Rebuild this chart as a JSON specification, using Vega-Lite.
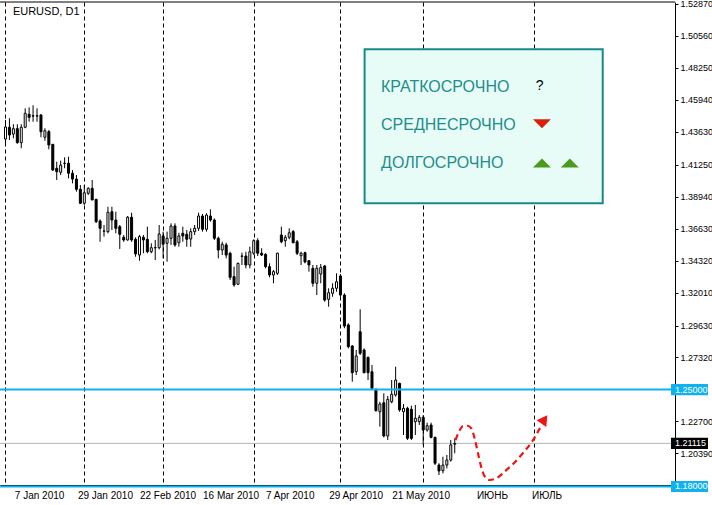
{
  "$schema": "https://vega.github.io/schema/vega-lite/v6.json",
  "width": 675,
  "height": 483,
  "autosize": {"type": "none"},
  "padding": {"left": 0, "top": 2, "right": 37, "bottom": 20},
  "background": "#ffffff",
  "config": {"view": {"stroke": null}, "font": "Liberation Sans"},
  "resolve": {"axis": {"x": "independent", "y": "independent"}},
  "datasets": {
    "candles": [
      {"i":0,"o":1.4310,"h":1.4448,"l":1.4267,"c":1.4397},
      {"i":1,"o":1.4395,"h":1.4460,"l":1.4303,"c":1.4339},
      {"i":2,"o":1.4346,"h":1.4417,"l":1.4315,"c":1.4385},
      {"i":3,"o":1.4385,"h":1.4417,"l":1.4276,"c":1.4284},
      {"i":4,"o":1.4284,"h":1.4417,"l":1.4243,"c":1.4395},
      {"i":5,"o":1.4395,"h":1.4532,"l":1.4388,"c":1.4496},
      {"i":6,"o":1.4489,"h":1.4539,"l":1.4435,"c":1.4467},
      {"i":7,"o":1.4478,"h":1.4554,"l":1.4435,"c":1.4476},
      {"i":8,"o":1.4476,"h":1.4532,"l":1.4435,"c":1.4478},
      {"i":9,"o":1.4484,"h":1.4489,"l":1.4323,"c":1.4363},
      {"i":10,"o":1.4323,"h":1.4388,"l":1.4298,"c":1.4370},
      {"i":11,"o":1.4363,"h":1.4375,"l":1.4236,"c":1.4267},
      {"i":12,"o":1.4272,"h":1.4274,"l":1.4082,"c":1.4086},
      {"i":13,"o":1.4099,"h":1.4146,"l":1.4014,"c":1.4074},
      {"i":14,"o":1.4070,"h":1.4154,"l":1.4050,"c":1.4122},
      {"i":15,"o":1.4133,"h":1.4178,"l":1.4099,"c":1.4135},
      {"i":16,"o":1.4135,"h":1.4182,"l":1.4026,"c":1.4063},
      {"i":17,"o":1.4063,"h":1.4086,"l":1.3990,"c":1.4021},
      {"i":18,"o":1.4021,"h":1.4050,"l":1.3930,"c":1.3947},
      {"i":19,"o":1.3947,"h":1.3978,"l":1.3841,"c":1.3846},
      {"i":20,"o":1.3846,"h":1.3978,"l":1.3834,"c":1.3922},
      {"i":21,"o":1.3918,"h":1.3961,"l":1.3906,"c":1.3954},
      {"i":22,"o":1.3954,"h":1.4014,"l":1.3868,"c":1.3870},
      {"i":23,"o":1.3875,"h":1.3877,"l":1.3703,"c":1.3713},
      {"i":24,"o":1.3718,"h":1.3730,"l":1.3568,"c":1.3665},
      {"i":25,"o":1.3644,"h":1.3689,"l":1.3605,"c":1.3646},
      {"i":26,"o":1.3641,"h":1.3821,"l":1.3629,"c":1.3781},
      {"i":27,"o":1.3785,"h":1.3821,"l":1.3653,"c":1.3725},
      {"i":28,"o":1.3725,"h":1.3785,"l":1.3629,"c":1.3665},
      {"i":29,"o":1.3677,"h":1.3689,"l":1.3516,"c":1.3622},
      {"i":30,"o":1.3600,"h":1.3617,"l":1.3568,"c":1.3581},
      {"i":31,"o":1.3581,"h":1.3754,"l":1.3576,"c":1.3745},
      {"i":32,"o":1.3745,"h":1.3778,"l":1.3568,"c":1.3581},
      {"i":33,"o":1.3586,"h":1.3600,"l":1.3460,"c":1.3480},
      {"i":34,"o":1.3472,"h":1.3617,"l":1.3431,"c":1.3605},
      {"i":35,"o":1.3600,"h":1.3617,"l":1.3485,"c":1.3581},
      {"i":36,"o":1.3586,"h":1.3677,"l":1.3485,"c":1.3496},
      {"i":37,"o":1.3496,"h":1.3557,"l":1.3485,"c":1.3525},
      {"i":38,"o":1.3524,"h":1.3581,"l":1.3436,"c":1.3526},
      {"i":39,"o":1.3525,"h":1.3689,"l":1.3513,"c":1.3624},
      {"i":40,"o":1.3610,"h":1.3641,"l":1.3448,"c":1.3550},
      {"i":41,"o":1.3557,"h":1.3641,"l":1.3424,"c":1.3593},
      {"i":42,"o":1.3593,"h":1.3701,"l":1.3545,"c":1.3682},
      {"i":43,"o":1.3682,"h":1.3701,"l":1.3532,"c":1.3545},
      {"i":44,"o":1.3561,"h":1.3633,"l":1.3532,"c":1.3610},
      {"i":45,"o":1.3629,"h":1.3677,"l":1.3568,"c":1.3610},
      {"i":46,"o":1.3622,"h":1.3653,"l":1.3532,"c":1.3586},
      {"i":47,"o":1.3588,"h":1.3665,"l":1.3532,"c":1.3641},
      {"i":48,"o":1.3641,"h":1.3689,"l":1.3617,"c":1.3665},
      {"i":49,"o":1.3665,"h":1.3778,"l":1.3646,"c":1.3754},
      {"i":50,"o":1.3754,"h":1.3769,"l":1.3641,"c":1.3658},
      {"i":51,"o":1.3658,"h":1.3774,"l":1.3641,"c":1.3761},
      {"i":52,"o":1.3754,"h":1.3802,"l":1.3713,"c":1.3725},
      {"i":53,"o":1.3725,"h":1.3737,"l":1.3581,"c":1.3593},
      {"i":54,"o":1.3593,"h":1.3605,"l":1.3448,"c":1.3508},
      {"i":55,"o":1.3508,"h":1.3568,"l":1.3472,"c":1.3550},
      {"i":56,"o":1.3545,"h":1.3561,"l":1.3448,"c":1.3472},
      {"i":57,"o":1.3485,"h":1.3496,"l":1.3292,"c":1.3311},
      {"i":58,"o":1.3316,"h":1.3388,"l":1.3243,"c":1.3256},
      {"i":59,"o":1.3261,"h":1.3417,"l":1.3256,"c":1.3412},
      {"i":60,"o":1.3463,"h":1.3489,"l":1.3400,"c":1.3465},
      {"i":61,"o":1.3465,"h":1.3496,"l":1.3376,"c":1.3400},
      {"i":62,"o":1.3400,"h":1.3532,"l":1.3376,"c":1.3496},
      {"i":63,"o":1.3485,"h":1.3586,"l":1.3472,"c":1.3576},
      {"i":64,"o":1.3576,"h":1.3593,"l":1.3465,"c":1.3485},
      {"i":65,"o":1.3485,"h":1.3521,"l":1.3465,"c":1.3472},
      {"i":66,"o":1.3477,"h":1.3485,"l":1.3376,"c":1.3388},
      {"i":67,"o":1.3388,"h":1.3412,"l":1.3311,"c":1.3328},
      {"i":68,"o":1.3328,"h":1.3364,"l":1.3268,"c":1.3352},
      {"i":69,"o":1.3340,"h":1.3489,"l":1.3328,"c":1.3485},
      {"i":70,"o":1.3617,"h":1.3677,"l":1.3557,"c":1.3568},
      {"i":71,"o":1.3576,"h":1.3617,"l":1.3532,"c":1.3600},
      {"i":72,"o":1.3600,"h":1.3665,"l":1.3586,"c":1.3633},
      {"i":73,"o":1.3641,"h":1.3653,"l":1.3557,"c":1.3561},
      {"i":74,"o":1.3568,"h":1.3581,"l":1.3472,"c":1.3485},
      {"i":75,"o":1.3467,"h":1.3496,"l":1.3400,"c":1.3485},
      {"i":76,"o":1.3489,"h":1.3496,"l":1.3412,"c":1.3422},
      {"i":77,"o":1.3431,"h":1.3436,"l":1.3352,"c":1.3400},
      {"i":78,"o":1.3376,"h":1.3400,"l":1.3243,"c":1.3268},
      {"i":79,"o":1.3268,"h":1.3400,"l":1.3183,"c":1.3376},
      {"i":80,"o":1.3335,"h":1.3407,"l":1.3268,"c":1.3383},
      {"i":81,"o":1.3393,"h":1.3400,"l":1.3135,"c":1.3147},
      {"i":82,"o":1.3152,"h":1.3232,"l":1.3099,"c":1.3200},
      {"i":83,"o":1.3196,"h":1.3268,"l":1.3171,"c":1.3232},
      {"i":84,"o":1.3232,"h":1.3340,"l":1.3207,"c":1.3279},
      {"i":85,"o":1.3321,"h":1.3335,"l":1.3171,"c":1.3183},
      {"i":86,"o":1.3183,"h":1.3196,"l":1.2943,"c":1.2959},
      {"i":87,"o":1.2967,"h":1.2979,"l":1.2798,"c":1.2810},
      {"i":88,"o":1.2815,"h":1.2822,"l":1.2557,"c":1.2622},
      {"i":89,"o":1.2629,"h":1.2786,"l":1.2605,"c":1.2743},
      {"i":90,"o":1.2918,"h":1.3080,"l":1.2750,"c":1.2762},
      {"i":91,"o":1.2786,"h":1.2798,"l":1.2618,"c":1.2622},
      {"i":92,"o":1.2733,"h":1.2738,"l":1.2569,"c":1.2622},
      {"i":93,"o":1.2629,"h":1.2678,"l":1.2509,"c":1.2509},
      {"i":94,"o":1.2502,"h":1.2509,"l":1.2340,"c":1.2348},
      {"i":95,"o":1.2340,"h":1.2412,"l":1.2232,"c":1.2396},
      {"i":96,"o":1.2405,"h":1.2473,"l":1.2155,"c":1.2165},
      {"i":97,"o":1.2165,"h":1.2454,"l":1.2136,"c":1.2430},
      {"i":98,"o":1.2412,"h":1.2569,"l":1.2401,"c":1.2466},
      {"i":99,"o":1.2461,"h":1.2665,"l":1.2449,"c":1.2569},
      {"i":100,"o":1.2545,"h":1.2550,"l":1.2340,"c":1.2353},
      {"i":101,"o":1.2340,"h":1.2396,"l":1.2172,"c":1.2365},
      {"i":102,"o":1.2365,"h":1.2376,"l":1.2136,"c":1.2148},
      {"i":103,"o":1.2358,"h":1.2384,"l":1.2136,"c":1.2148},
      {"i":104,"o":1.2268,"h":1.2389,"l":1.2172,"c":1.2293},
      {"i":105,"o":1.2268,"h":1.2316,"l":1.2244,"c":1.2300},
      {"i":106,"o":1.2300,"h":1.2316,"l":1.2100,"c":1.2208},
      {"i":107,"o":1.2208,"h":1.2261,"l":1.2196,"c":1.2239},
      {"i":108,"o":1.2244,"h":1.2261,"l":1.2148,"c":1.2155},
      {"i":109,"o":1.2155,"h":1.2160,"l":1.1955,"c":1.1968},
      {"i":110,"o":1.1955,"h":1.1968,"l":1.1883,"c":1.1912},
      {"i":111,"o":1.1914,"h":1.2015,"l":1.1895,"c":1.1955},
      {"i":112,"o":1.1955,"h":1.2028,"l":1.1931,"c":1.1991},
      {"i":113,"o":1.1991,"h":1.2136,"l":1.1979,"c":1.2100},
      {"i":114,"o":1.2105,"h":1.2148,"l":1.2040,"c":1.2111}
    ],
    "forecast": [
      {"t":114.2,"p":1.2136},
      {"t":115.3,"p":1.2208},
      {"t":116.1,"p":1.2237},
      {"t":117.2,"p":1.2239},
      {"t":118.2,"p":1.2220},
      {"t":119.05,"p":1.2148},
      {"t":119.9,"p":1.2040},
      {"t":120.7,"p":1.1943},
      {"t":121.55,"p":1.1876},
      {"t":122.8,"p":1.1847},
      {"t":124.45,"p":1.1857},
      {"t":126.55,"p":1.1905},
      {"t":129.05,"p":1.1970},
      {"t":131.55,"p":1.2049},
      {"t":134.05,"p":1.2143},
      {"t":135.625,"p":1.2223}
    ],
    "dates": [
      {"t":2.375,"label":"7 Jan 2010"},
      {"t":18.375,"label":"29 Jan 2010"},
      {"t":34.125,"label":"22 Feb 2010"},
      {"t":50.125,"label":"16 Mar 2010"},
      {"t":66.125,"label":"7 Apr 2010"},
      {"t":82.125,"label":"29 Apr 2010"},
      {"t":98.125,"label":"21 May 2010"},
      {"t":119.625,"label":"ИЮНЬ"},
      {"t":133.625,"label":"ИЮЛЬ"}
    ],
    "levels": [
      {"p":1.25,"label":"1.25000","kind":"level"},
      {"p":1.18,"label":"1.18000","kind":"level"},
      {"p":1.21115,"label":"1.21115","kind":"bid"}
    ]
  },
  "data": {"name": "candles"},
  "layer": [
    {
      "data": {"name": "levels"},
      "transform": [{"filter": "datum.kind == 'bid'"}],
      "mark": {"type": "rule", "stroke": "#b4b4b4", "strokeWidth": 1},
      "encoding": {
        "y": {"field": "p", "type": "quantitative", "axis": null, "scale": {"domain": [1.18108, 1.53], "nice": false, "zero": false}}
      }
    },
    {
      "mark": {"type": "rule", "stroke": "#000000", "strokeWidth": 1, "clip": true},
      "encoding": {
        "x": {"field": "i", "type": "quantitative",
          "scale": {"domain": [-0.125, 168.625], "nice": false, "zero": false},
          "axis": {"orient": "bottom", "values": [0, 20, 40, 63, 85, 106, 134], "title": null, "labels": false, "ticks": false,
            "grid": true, "gridColor": "#000000", "gridDash": [4, 3], "gridWidth": 1, "gridOpacity": 1,
            "domain": true, "domainColor": "#000000", "domainWidth": 1}},
        "y": {"field": "l", "type": "quantitative",
          "scale": {"domain": [1.18108, 1.53], "nice": false, "zero": false},
          "axis": {"orient": "right", "title": null, "grid": false,
            "values": [1.5287, 1.5056, 1.4825, 1.4594, 1.4363, 1.4125, 1.3894, 1.3663, 1.3432, 1.3201, 1.2963, 1.2732, 1.227, 1.2039],
            "format": ".5f", "domainColor": "#000000", "domainWidth": 1, "tickColor": "#000000", "tickSize": 3,
            "labelFontSize": 9, "labelColor": "#000000", "labelPadding": 2, "labelOverlap": false, "labelFlush": false, "labelBound": false}},
        "y2": {"field": "h"}
      }
    },
    {
      "mark": {"type": "bar", "size": 2, "stroke": "#000000", "strokeWidth": 1, "clip": true},
      "encoding": {
        "x": {"field": "i", "type": "quantitative", "axis": null, "scale": {"domain": [-0.125, 168.625], "nice": false, "zero": false}},
        "y": {"field": "o", "type": "quantitative", "axis": null, "scale": {"domain": [1.18108, 1.53], "nice": false, "zero": false}},
        "y2": {"field": "c"},
        "fill": {"condition": {"test": "datum.c >= datum.o", "value": "#ffffff"}, "value": "#000000"}
      }
    },
    {
      "data": {"name": "levels"},
      "transform": [{"filter": "datum.kind == 'level'"}],
      "mark": {"type": "rule", "stroke": "#0fb2ef", "strokeWidth": 2},
      "encoding": {
        "y": {"field": "p", "type": "quantitative", "axis": null, "scale": {"domain": [1.18108, 1.53], "nice": false, "zero": false}}
      }
    },
    {
      "data": {"name": "forecast"},
      "mark": {"type": "line", "stroke": "#f01414", "strokeWidth": 2.2, "strokeDash": [6, 4], "interpolate": "monotone"},
      "encoding": {
        "x": {"field": "t", "type": "quantitative", "axis": null, "scale": {"domain": [-0.125, 168.625], "nice": false, "zero": false}},
        "y": {"field": "p", "type": "quantitative", "axis": null, "scale": {"domain": [1.18108, 1.53], "nice": false, "zero": false}}
      }
    },
    {
      "data": {"values": [{}]},
      "mark": {"type": "point", "shape": "triangle-up", "size": 140, "filled": true, "fill": "#f01414", "opacity": 1, "angle": 35},
      "encoding": {
        "x": {"datum": 136.75, "type": "quantitative", "axis": null, "scale": {"domain": [-0.125, 168.625], "nice": false, "zero": false}},
        "y": {"datum": 1.2284, "type": "quantitative", "axis": null, "scale": {"domain": [1.18108, 1.53], "nice": false, "zero": false}}
      }
    },
    {
      "data": {"values": [{}]},
      "mark": {"type": "rect", "fill": "#e8fcf7", "stroke": "#178a85", "strokeWidth": 2},
      "encoding": {
        "x": {"datum": 91.125, "type": "quantitative", "axis": null, "scale": {"domain": [-0.125, 168.625], "nice": false, "zero": false}},
        "x2": {"datum": 151.55},
        "y": {"datum": 1.4958, "type": "quantitative", "axis": null, "scale": {"domain": [1.18108, 1.53], "nice": false, "zero": false}},
        "y2": {"datum": 1.3846}
      }
    },
    {
      "data": {"values": [{}]},
      "mark": {"type": "text", "text": "КРАТКОСРОЧНО", "align": "left", "baseline": "middle", "fontSize": 16, "fill": "#1e8e8a"},
      "encoding": {
        "x": {"datum": 95.3, "type": "quantitative", "axis": null, "scale": {"domain": [-0.125, 168.625], "nice": false, "zero": false}},
        "y": {"datum": 1.4688, "type": "quantitative", "axis": null, "scale": {"domain": [1.18108, 1.53], "nice": false, "zero": false}}
      }
    },
    {
      "data": {"values": [{}]},
      "mark": {"type": "text", "text": "СРЕДНЕСРОЧНО", "align": "left", "baseline": "middle", "fontSize": 16, "fill": "#1e8e8a"},
      "encoding": {
        "x": {"datum": 95.3, "type": "quantitative", "axis": null, "scale": {"domain": [-0.125, 168.625], "nice": false, "zero": false}},
        "y": {"datum": 1.4411, "type": "quantitative", "axis": null, "scale": {"domain": [1.18108, 1.53], "nice": false, "zero": false}}
      }
    },
    {
      "data": {"values": [{}]},
      "mark": {"type": "text", "text": "ДОЛГОСРОЧНО", "align": "left", "baseline": "middle", "fontSize": 16, "fill": "#1e8e8a"},
      "encoding": {
        "x": {"datum": 95.3, "type": "quantitative", "axis": null, "scale": {"domain": [-0.125, 168.625], "nice": false, "zero": false}},
        "y": {"datum": 1.4135, "type": "quantitative", "axis": null, "scale": {"domain": [1.18108, 1.53], "nice": false, "zero": false}}
      }
    },
    {
      "data": {"values": [{}]},
      "mark": {"type": "text", "text": "?", "align": "center", "baseline": "middle", "fontSize": 14, "fill": "#000000"},
      "encoding": {
        "x": {"datum": 135.55, "type": "quantitative", "axis": null, "scale": {"domain": [-0.125, 168.625], "nice": false, "zero": false}},
        "y": {"datum": 1.4695, "type": "quantitative", "axis": null, "scale": {"domain": [1.18108, 1.53], "nice": false, "zero": false}}
      }
    },
    {
      "data": {"values": [{}]},
      "mark": {"type": "point", "shape": "M-1,-0.5L1,-0.5L0,0.5Z", "size": 324, "filled": true, "fill": "#d8200c", "opacity": 1},
      "encoding": {
        "x": {"datum": 136.125, "type": "quantitative", "axis": null, "scale": {"domain": [-0.125, 168.625], "nice": false, "zero": false}},
        "y": {"datum": 1.4421, "type": "quantitative", "axis": null, "scale": {"domain": [1.18108, 1.53], "nice": false, "zero": false}}
      }
    },
    {
      "data": {"values": [{"t": 136.125}, {"t": 143.2}]},
      "mark": {"type": "point", "shape": "M-1,0.5L1,0.5L0,-0.5Z", "size": 324, "filled": true, "fill": "#4c9a1c", "opacity": 1},
      "encoding": {
        "x": {"field": "t", "type": "quantitative", "axis": null, "scale": {"domain": [-0.125, 168.625], "nice": false, "zero": false}},
        "y": {"datum": 1.4137, "type": "quantitative", "axis": null, "scale": {"domain": [1.18108, 1.53], "nice": false, "zero": false}}
      }
    },
    {
      "data": {"name": "levels"},
      "mark": {"type": "point", "shape": "M0,-0.3L2,-0.3L2,0.3L0,0.3Z", "size": 1369, "filled": true, "opacity": 1},
      "encoding": {
        "x": {"datum": 168.875, "type": "quantitative", "axis": null, "scale": {"domain": [-0.125, 168.625], "nice": false, "zero": false}},
        "y": {"field": "p", "type": "quantitative", "axis": null, "scale": {"domain": [1.18108, 1.53], "nice": false, "zero": false}},
        "fill": {"condition": {"test": "datum.kind == 'bid'", "value": "#000000"}, "value": "#0fb2ef"}
      }
    },
    {
      "data": {"name": "levels"},
      "mark": {"type": "text", "align": "left", "baseline": "middle", "fontSize": 9, "fill": "#ffffff"},
      "encoding": {
        "x": {"datum": 169.875, "type": "quantitative", "axis": null, "scale": {"domain": [-0.125, 168.625], "nice": false, "zero": false}},
        "y": {"field": "p", "type": "quantitative", "axis": null, "scale": {"domain": [1.18108, 1.53], "nice": false, "zero": false}},
        "text": {"field": "label"}
      }
    },
    {
      "data": {"name": "dates"},
      "mark": {"type": "text", "align": "left", "baseline": "middle", "fontSize": 10, "fill": "#000000"},
      "encoding": {
        "x": {"field": "t", "type": "quantitative", "axis": null, "scale": {"domain": [-0.125, 168.625], "nice": false, "zero": false}},
        "y": {"datum": 1.1731, "type": "quantitative", "axis": null, "scale": {"domain": [1.18108, 1.53], "nice": false, "zero": false}},
        "text": {"field": "label"}
      }
    },
    {
      "data": {"values": [{}]},
      "mark": {"type": "text", "text": "EURUSD, D1", "align": "left", "baseline": "middle", "fontSize": 11, "fill": "#000000"},
      "encoding": {
        "x": {"datum": 1.875, "type": "quantitative", "axis": null, "scale": {"domain": [-0.125, 168.625], "nice": false, "zero": false}},
        "y": {"datum": 1.5226, "type": "quantitative", "axis": null, "scale": {"domain": [1.18108, 1.53], "nice": false, "zero": false}}
      }
    },
    {
      "data": {"values": [{}]},
      "mark": {"type": "rule", "stroke": "#000000", "strokeWidth": 1},
      "encoding": {
        "y": {"datum": 1.53, "type": "quantitative", "axis": null, "scale": {"domain": [1.18108, 1.53], "nice": false, "zero": false}}
      }
    }
  ]
}
